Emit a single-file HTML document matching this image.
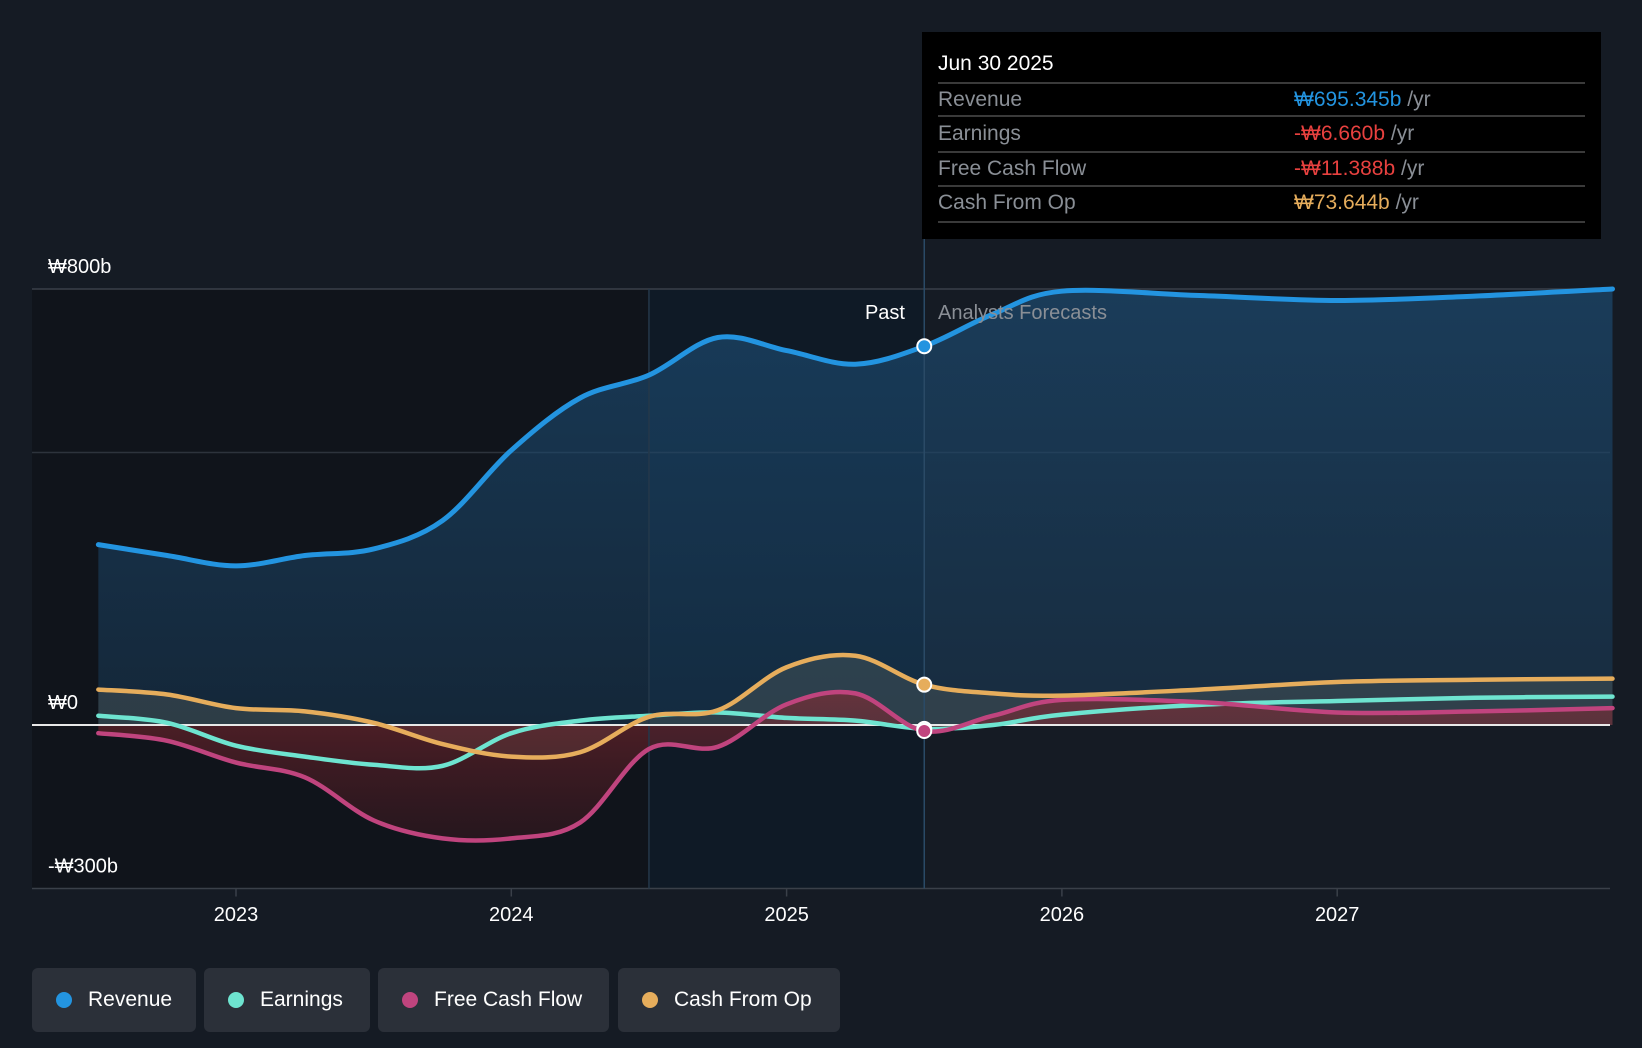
<!DOCTYPE html>
<html><head><meta charset="utf-8"><style>
body{margin:0;background:#151b24;width:1642px;height:1048px;overflow:hidden;font-family:"Liberation Sans",sans-serif}
.leg{position:absolute;top:968px;height:64px;background:#2b3039;border-radius:6px;color:#fff;font-size:21px;line-height:64px;box-sizing:border-box;padding-left:56px}
.leg i{position:absolute;left:24px;top:24px;width:16px;height:16px;border-radius:50%}
</style></head><body>
<svg id="chart" width="1642" height="1048" style="position:absolute;left:0;top:0" font-family="Liberation Sans, sans-serif"></svg>
<div class="leg" style="left:32px;width:164px"><i style="background:#2394e0"></i>Revenue</div>
<div class="leg" style="left:204px;width:166px"><i style="background:#6ee4d0"></i>Earnings</div>
<div class="leg" style="left:378px;width:231px"><i style="background:#c0447e"></i>Free Cash Flow</div>
<div class="leg" style="left:618px;width:222px"><i style="background:#e6ad5c"></i>Cash From Op</div>
<script>
const times=[2022.5,2022.75,2023,2023.25,2023.5,2023.75,2024,2024.25,2024.5,2024.75,2025,2025.25,2025.5,2025.75,2026,2026.5,2027,2027.5,2028];
const revenue=[331,311,292,311,323,375,504,600,642,711,687,662,695,754,796,788,779,787,800];
const earnings=[17,4,-38,-58,-73,-75,-15,8,17,23,13,8,-7,0,19,37,44,50,52];
const fcf=[-15,-29,-69,-96,-175,-208,-208,-179,-44,-40,38,58,-11,17,46,42,23,25,31];
const cfo=[65,56,31,25,4,-35,-58,-50,15,27,106,127,74,58,54,65,79,83,85];
const yTicks=[800,0,-300];
const yTickLabels=['₩800b','₩0','-₩300b'];
const gridVals=[500];
const xYears=[2023,2024,2025,2026,2027];
const X=t=>236+(t-2023)*275.3;
const Y=v=>725-(v)*0.545;
const svg=document.getElementById('chart');
const NS='http://www.w3.org/2000/svg';
function mk(tag,attrs,parent){const e=document.createElementNS(NS,tag);for(const k in attrs)e.setAttribute(k,attrs[k]);(parent||svg).appendChild(e);return e;}
function path(vals){const p=times.map((t,i)=>[X(t),Y(vals[i])]);let d='M'+p[0][0]+','+p[0][1];
for(let i=0;i<p.length-1;i++){const p0=p[Math.max(0,i-1)],p1=p[i],p2=p[i+1],p3=p[Math.min(p.length-1,i+2)];
d+=' C'+(p1[0]+(p2[0]-p0[0])/6)+','+(p1[1]+(p2[1]-p0[1])/6)+' '+(p2[0]-(p3[0]-p1[0])/6)+','+(p2[1]-(p3[1]-p1[1])/6)+' '+p2[0]+','+p2[1];}return d;}
const defs=mk('defs',{});
defs.innerHTML='<linearGradient id="rg" x1="0" y1="0" x2="0" y2="1"><stop offset="0" stop-color="#1c4a70" stop-opacity="0.7"/><stop offset="1" stop-color="#1c4a70" stop-opacity="0.35"/></linearGradient><linearGradient id="redg" x1="0" y1="0" x2="0" y2="1"><stop offset="0" stop-color="#8a2a32" stop-opacity="0.8"/><stop offset="1" stop-color="#5a1c24" stop-opacity="0.4"/></linearGradient>';
const xEnd=X(2028),x0=X(2022.5),xs=X(2024.5),xp=X(2025.5);
let r=mk('rect',{x:32,y:Y(800),width:xs-32,height:Y(-300)-Y(800),fill:'#10141b'});
r=mk('rect',{x:xs,y:Y(800),width:xp-xs,height:Y(-300)-Y(800),fill:'#0f1a26'});
gridVals.forEach(v=>mk('line',{x1:32,x2:1610,y1:Y(v),y2:Y(v),stroke:'#2d333c','stroke-width':1.5}));
mk('line',{x1:32,x2:1610,y1:Y(800),y2:Y(800),stroke:'#3a4049','stroke-width':1.5});
mk('line',{x1:32,x2:1610,y1:Y(-300),y2:Y(-300),stroke:'#3a4049','stroke-width':1.5});
let a=mk('path',{d:path(revenue)+' L'+xEnd+','+Y(0)+' L'+x0+','+Y(0)+' Z',fill:'url(#rg)'});
a=mk('path',{d:path(cfo)+' L'+xEnd+','+Y(0)+' L'+x0+','+Y(0)+' Z',fill:'#6b7068','opacity':0.3});
a=mk('path',{d:path(fcf)+' L'+xEnd+','+Y(0)+' L'+x0+','+Y(0)+' Z',fill:'url(#redg)','opacity':0.75});
mk('line',{x1:xs,x2:xs,y1:Y(800),y2:Y(-300),stroke:'#24384a','stroke-width':1.5});
mk('line',{x1:xp,x2:xp,y1:Y(-300),y2:238,stroke:'#2a4a66','stroke-width':1.5});
mk('line',{x1:32,x2:1610,y1:Y(0),y2:Y(0),stroke:'#e8e8e8','stroke-width':2});
const series=[['earnings',earnings,'#6ee4d0'],['fcf',fcf,'#c0447e'],['cfo',cfo,'#e6ad5c'],['revenue',revenue,'#2394e0']];
series.forEach(s=>{const l=mk('path',{d:path(s[1]),fill:'none',stroke:s[2],'stroke-width':s[0]=='revenue'?5:4.5,'stroke-linecap':'round'});
});
const i=times.indexOf(2025.5);
series.forEach(s=>{const c=mk('circle',{cx:xp,cy:Y(s[1][i]),r:7,fill:s[2],stroke:'#fff','stroke-width':2});});
yTicks.forEach((v,k)=>{const t=mk('text',{x:48,y:Y(v)-16,fill:'#fff','font-size':20});t.textContent=yTickLabels[k];});
xYears.forEach(yr=>{mk('line',{x1:X(yr),x2:X(yr),y1:Y(-300),y2:Y(-300)+8,stroke:'#3a4049','stroke-width':1.5});
const t=mk('text',{x:X(yr),y:921,fill:'#fff','font-size':20,'text-anchor':'middle'});t.textContent=yr;});
let t=mk('text',{x:905,y:319,fill:'#fff','font-size':20,'text-anchor':'end'});t.textContent='Past';
t=mk('text',{x:938,y:319,fill:'#8a8f96','font-size':20});t.textContent='Analysts Forecasts';
const g=mk('g',{});
mk('rect',{x:922,y:32,width:679,height:207,fill:'#000'},g);
t=mk('text',{x:938,y:70,fill:'#fff','font-size':21},g);t.textContent='Jun 30 2025';
[83,116,152,186,222].forEach(y=>mk('line',{x1:938,x2:1585,y1:y,y2:y,stroke:'#3a3a3a','stroke-width':2},g));
const rows=[['Revenue','₩695.345b','#2394e0',106],['Earnings','-₩6.660b','#e8413f',140],['Free Cash Flow','-₩11.388b','#e8413f',175],['Cash From Op','₩73.644b','#e6ad5c',209]];
rows.forEach(rw=>{let a=mk('text',{x:938,y:rw[3],fill:'#8a8f96','font-size':21},g);a.textContent=rw[0];
let b=mk('text',{x:1294,y:rw[3],fill:rw[2],'font-size':21},g);b.textContent=rw[1];
const ts=mk('tspan',{fill:'#8a8f96'},b);ts.textContent=' /yr';});
</script>
</body></html>
